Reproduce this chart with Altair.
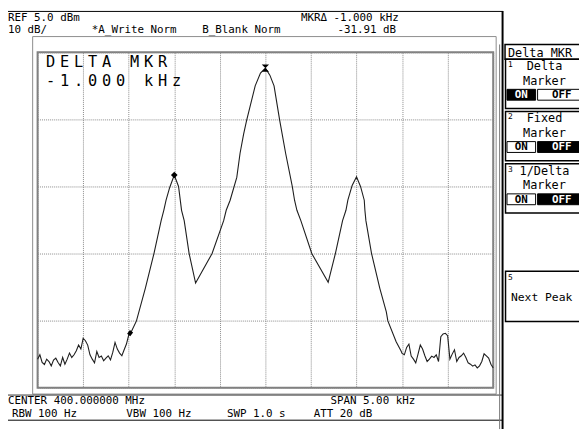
import altair as alt
import pandas as pd

left_noise_hz = list(range(-2500, -1499, 25))
left_noise_dbm = [-86.5, -85.2, -87.5, -88.1, -86.5, -87.2, -88.5, -86.8, -86.2, -87.5,
                  -88.5, -86.0, -88.0, -86.5, -84.7, -86.0, -85.2, -84.0, -82.3, -83.5,
                  -80.3, -81.0, -82.3, -85.2, -86.5, -87.6, -84.2, -86.0, -85.6, -87.0,
                  -86.2, -85.5, -86.7, -84.5, -81.5, -83.5, -84.7, -85.5, -83.7, -82.0,
                  -79.3]

signal_hz = [-1469, -1415, -1317, -1223, -1144, -1115, -1090, -1050, -1000, -953,
             -920, -891, -837, -766, -585, -458, -430, -387, -314, -278,
             -239, -206, -112, -54, 0, 49, 95, 157, 222, 295,
             320, 346, 389, 509, 689, 768, 847, 884, 905, 952,
             1000, 1044, 1085, 1092, 1103, 1165, 1255, 1327, 1344, 1435, 1489]
signal_dbm = [-78.2, -75.1, -65.3, -55.0, -45.2, -42.1, -39.1, -35.3, -31.6, -35.0,
              -42.1, -45.2, -55.0, -63.8, -55.0, -45.2, -42.1, -39.1, -32.3, -25.1,
              -19.4, -15.3, -5.0, -1.2, 0.3, -1.8, -5.0, -15.3, -25.1, -35.0,
              -39.1, -42.1, -45.2, -55.0, -63.6, -55.0, -45.2, -42.1, -39.1, -34.7,
              -32.1, -35.0, -39.1, -42.1, -45.2, -55.0, -65.3, -72.4, -75.1, -81.3, -84.1]

right_noise_hz = list(range(1500, 2501, 25))
right_noise_dbm = [-84.8, -85.2, -83.0, -82.0, -85.6, -86.5, -87.6, -85.0, -82.3, -83.5,
                   -85.5, -87.2, -86.5, -85.6, -86.0, -85.2, -87.2, -79.8, -79.0, -78.8,
                   -79.5, -86.5, -85.0, -83.7, -87.2, -86.0, -85.5, -84.7, -86.0, -87.6,
                   -88.0, -88.6, -88.2, -89.1, -88.5, -87.2, -84.9, -85.5, -86.2, -88.0,
                   -89.1]

marker_hz = [0, -1000]
marker_dbm = [0.3, -31.6]

grid_x = [-2500, -2000, -1500, -1000, -500, 0, 500, 1000, 1500, 2000, 2500]
grid_y = [5, -5, -15, -25, -35, -45, -55, -65, -75, -85, -95]

trace = pd.DataFrame({
    "offset_hz": left_noise_hz + signal_hz + right_noise_hz,
    "dbm": left_noise_dbm + signal_dbm + right_noise_dbm,
})
markers = pd.DataFrame({"offset_hz": marker_hz, "dbm": marker_dbm})

# ---------------- layout ----------------
MONO = "DejaVu Sans Mono"
OX, OY = 38, 50          # page position of the plot origin
W, H = 462, 340


def one():
    return alt.Chart(alt.Data(values=[{"k": 0}]))


def rule(x1, y1, x2, y2, color="#000000", w=1.0):
    return one().mark_rule(color=color, strokeWidth=w).encode(
        x=alt.value(x1 - OX), x2=alt.value(x2 - OX),
        y=alt.value(y1 - OY), y2=alt.value(y2 - OY))


def box(x1, y1, x2, y2, fill="#ffffff", stroke="#000000", w=1.0, fo=1.0):
    return one().mark_rect(fill=fill, fillOpacity=fo, stroke=stroke, strokeWidth=w).encode(
        x=alt.value(x1 - OX), x2=alt.value(x2 - OX),
        y=alt.value(y1 - OY), y2=alt.value(y2 - OY))


def label(x, y, text, size=11, align="left", color="#000000", weight="normal"):
    return one().mark_text(text=text, align=align, baseline="alphabetic",
                           fontSize=size, font=MONO, color=color,
                           fontWeight=weight).encode(
        x=alt.value(x - OX), y=alt.value(y - OY))


def spaced(x, y, text, pitch, size):
    # character-cell text, as drawn by the instrument's display
    return [label(x + i * pitch + pitch / 2, y, ch, size=size, align="center")
            for i, ch in enumerate(text) if ch != " "]


grid_axis = dict(grid=True, labels=False, ticks=False, domain=False, title=None,
                 gridColor="#8a8a8a", gridDash=[1, 1], gridWidth=1)
xenc = alt.X("offset_hz:Q",
             scale=alt.Scale(domain=[-2500, 2500], nice=False, zero=False),
             axis=alt.Axis(values=grid_x, **grid_axis))
yenc = alt.Y("dbm:Q",
             scale=alt.Scale(domain=[-95, 5], nice=False, zero=False),
             axis=alt.Axis(values=grid_y, **grid_axis))

trace_line = alt.Chart(trace).mark_line(color="#1e1e1e", strokeWidth=1.1).encode(
    x=xenc, y=yenc)

thick = alt.Chart(trace).transform_filter(
    (alt.datum.offset_hz >= -1510) & (alt.datum.offset_hz <= -1465)
).mark_line(color="#000000", strokeWidth=4).encode(x="offset_hz:Q", y="dbm:Q")

peak_mark = alt.Chart(markers).transform_filter(alt.datum.offset_hz == 0).mark_point(
    shape="M-1,-1L1,-1L-1,1L1,1Z", filled=True, color="#000000", size=55, opacity=1
).encode(x="offset_hz:Q", y="dbm:Q")

ref_mark = alt.Chart(markers).transform_filter(alt.datum.offset_hz == -1000).mark_point(
    shape="diamond", filled=True, color="#000000", size=45, opacity=1
).encode(x="offset_hz:Q", y="dbm:Q")

layers = [
    # frames
    rule(8, 8.5, 510, 8.5),
    box(33, 34, 503, 396.5, fill="#ffffff", stroke="#8c8c8c", w=1, fo=0),
    rule(8, 397.5, 509, 397.5, color="#333333"),
    rule(8, 423, 509, 423),
    rule(509.5, 8, 509.5, 432, w=2),
    rule(506.5, 42, 506.5, 432, color="#777777"),
    trace_line, thick, peak_mark, ref_mark,
    # top status
    label(8, 18.5, "REF 5.0 dBm"),
    label(8, 30.5, "10 dB/"),
    label(93, 30.5, "*A_Write Norm"),
    label(205, 30.5, "B_Blank Norm"),
    label(305, 18.5, "MKR\u0394 -1.000 kHz"),
    label(342, 30.5, "-31.91 dB"),
    # bottom status
    label(8, 407, "CENTER 400.000000 MHz"),
    label(335, 407, "SPAN 5.00 kHz"),
    label(12, 420, "RBW 100 Hz"),
    label(128, 420, "VBW 100 Hz"),
    label(230, 420, "SWP 1.0 s"),
    label(318, 420, "ATT 20 dB"),
]
# big annotation
layers += spaced(44, 65, "DELTA MKR", 14.2, 15.5)
layers += spaced(44, 84, "-1.000 kHz", 14.2, 15.5)

# right soft-key panel
layers += [box(512, 42, 595, 57, w=1.5), label(515, 54.5, "Delta MKR", size=12)]

buttons = [
    (57, "1", "Delta", "Marker", True),
    (110, "2", "Fixed", "Marker", False),
    (163, "3", "1/Delta", "Marker", False),
]
for top, num, t1, t2, on in buttons:
    layers += [
        box(512.5, top, 595, top + 50, w=1.5),
        label(515, top + 8, num, size=8),
        label(552, top + 11, t1, size=12, align="center"),
        label(552, top + 26, t2, size=12, align="center"),
        box(514, top + 30.5, 543, top + 41.5, fill="#000000" if on else "#ffffff", w=1),
        box(545, top + 30.5, 595, top + 41.5, fill="#ffffff" if on else "#000000", w=1),
        label(528.5, top + 39.5, "ON", size=11, align="center", weight="bold",
              color="#ffffff" if on else "#000000"),
        label(569.5, top + 39.5, "OFF", size=11, align="center", weight="bold",
              color="#000000" if on else "#ffffff"),
    ]

layers += [
    box(512.5, 272, 595, 323, w=1.5),
    label(515, 281, "5", size=8),
    label(518, 302, "Next Peak", size=11.5),
]

chart = alt.layer(*layers).properties(
    width=W, height=H,
    padding={"left": 30, "top": 42, "right": 87, "bottom": 42},
    autosize=alt.AutoSizeParams(type="none"),
    background="#ffffff",
).configure_view(stroke="#7f7f7f", strokeWidth=2)

chart.save("out.html", embed_options={"renderer": "svg", "actions": False})
